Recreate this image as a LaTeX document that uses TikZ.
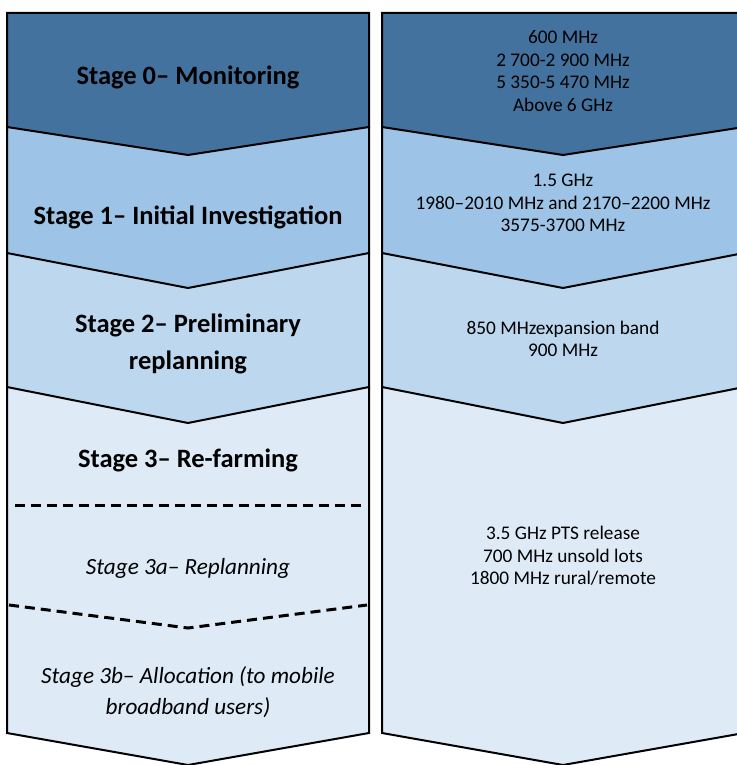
\documentclass[tikz,border=0pt]{standalone}
\usepackage{fontspec}
\setmainfont{Carlito}
\usetikzlibrary{positioning}
\definecolor{stagezero}{HTML}{44729E}
\definecolor{stageone}{HTML}{9DC3E6}
\definecolor{stagetwo}{HTML}{BDD7EE}
\definecolor{stagethree}{HTML}{DEEBF7}
\tikzstyle{band} = [draw=black, 
line width=2pt, 
line join=miter]
\tikzstyle{splitline} = [draw=black, 
line width=3pt, 
dash pattern=on 10pt off 6pt]
\tikzstyle{stagetitle} = [align=center, 
font=\bfseries\fontsize{26.5}{37}\selectfont]
\tikzstyle{substage} = [align=center, 
font=\itshape\fontsize{23.2}{31}\selectfont]
\tikzstyle{bands} = [align=center, 
font=\fontsize{19.3}{22.5}\selectfont]
\begin{document}
\begin{tikzpicture}[x=1pt, y=-1pt]
\useasboundingbox (0,0) rectangle (736,765);

% left column, drawn bottom up so each point lies over the next band
\path [band, fill=stagethree] (7,387) -- (7,733) -- (188,765) -- (369,733) -- (369,387);
\path [band, fill=stagetwo] (7,253) -- (7,387) -- (188,423) -- (369,387) -- (369,253);
\path [band, fill=stageone] (7,127) -- (7,253) -- (188,288) -- (369,253) -- (369,127);
\path [band, fill=stagezero] (7,13) -- (7,127) -- (188,155) -- (369,127) -- (369,13) -- cycle;

% right column
\path [band, fill=stagethree] (382,387) -- (382,733) -- (563,765) -- (744,733) -- (744,387);
\path [band, fill=stagetwo] (382,253) -- (382,387) -- (563,423) -- (744,387) -- (744,253);
\path [band, fill=stageone] (382,127) -- (382,253) -- (563,288) -- (744,253) -- (744,127);
\path [band, fill=stagezero] (382,13) -- (382,127) -- (563,155) -- (744,127) -- (744,13) -- cycle;

% sub-stages of stage 3
\draw [splitline] (15,505) -- (367,505);
\draw [splitline] (9,605) -- (188,628) -- (367,605);

\node (stage0) [stagetitle] at (188,77) {Stage 0– Monitoring};
\node (stage1) [stagetitle] at (188,217) {Stage 1– Initial Investigation};
\node (stage2) [stagetitle] at (188,344) {Stage 2– Preliminary \\ replanning};
\node (stage3) [stagetitle] at (188,460) {Stage 3– Re-farming};
\node (stage3a) [substage] at (188,568) {Stage 3a– Replanning};
\node (stage3b) [substage] at (188,692) {Stage 3b– Allocation (to mobile \\ broadband users)};

\node (bands0) [bands] at (563,71) {600 MHz \\ 2 700-2 900 MHz \\ 5 350-5 470 MHz \\ Above 6 GHz};
\node (bands1) [bands] at (563,203) {1.5 GHz \\ 1980–2010 MHz and 2170–2200 MHz \\ 3575-3700 MHz};
\node (bands2) [bands] at (563,339) {850 MHzexpansion band \\ 900 MHz};
\node (bands3) [bands] at (563,556) {3.5 GHz PTS release \\ 700 MHz unsold lots \\ 1800 MHz rural/remote};
\end{tikzpicture}
\end{document}
